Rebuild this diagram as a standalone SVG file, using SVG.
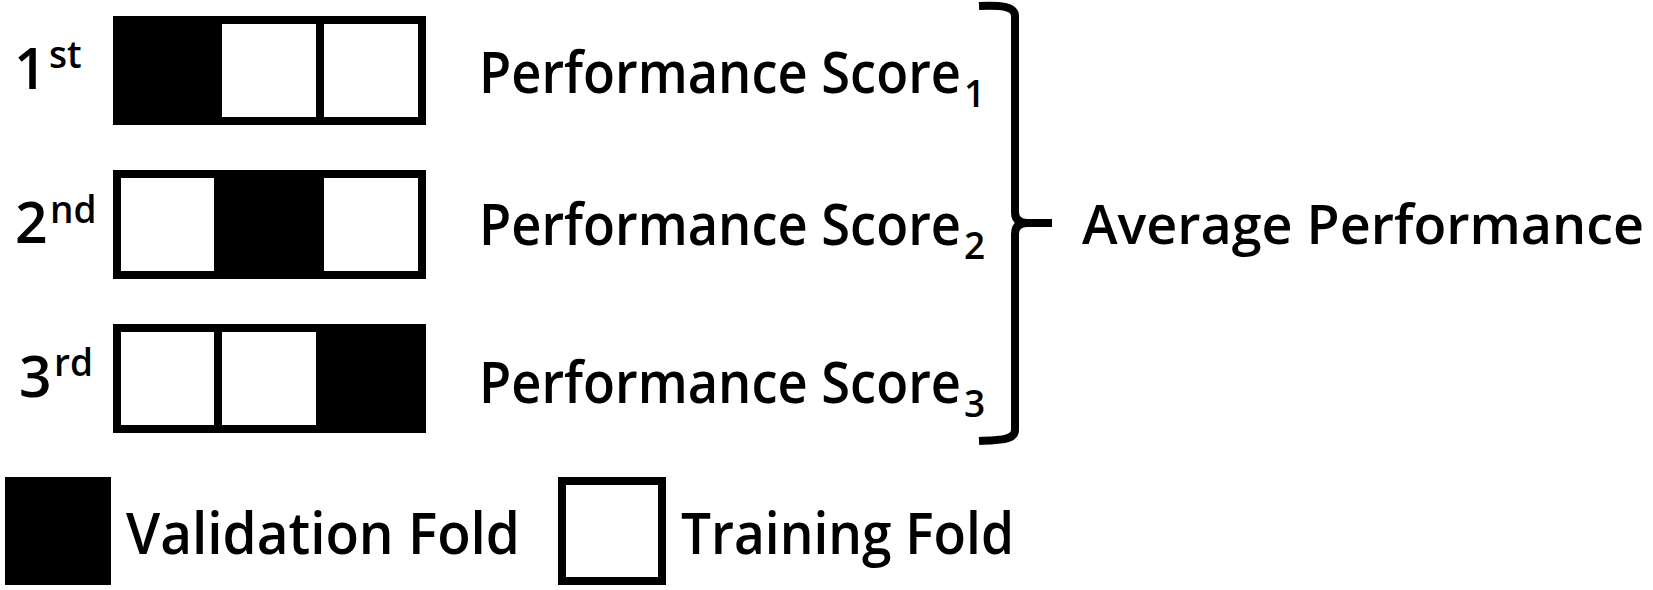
<svg xmlns="http://www.w3.org/2000/svg" width="1653" height="590" viewBox="0 0 1653 590">
<style>
.t{font-family:"Open Sans","Liberation Sans",sans-serif;font-size:57px;font-weight:600;fill:#000}
.s{font-family:"Open Sans","Liberation Sans",sans-serif;font-size:37px;font-weight:600;fill:#000}
.box{fill:#fff;stroke:#000;stroke-width:8}
.div{stroke:#000;stroke-width:8}
.val{fill:#000}
.br{fill:none;stroke:#000;stroke-width:8;stroke-linecap:butt;stroke-linejoin:round}
</style>
<rect width="1653" height="590" fill="#fff"/>
<g id="row1">
<text class="t" x="14" y="89">1</text><text class="s" x="49" y="68">st</text>
<rect class="box" x="117" y="20" width="305" height="101"/>
<line class="div" x1="218" y1="16" x2="218" y2="125"/><line class="div" x1="320" y1="16" x2="320" y2="125"/>
<rect class="val" x="113" y="16" width="109" height="109"/>
<text class="t" x="479" y="93"><tspan textLength="482" lengthAdjust="spacingAndGlyphs">Performance Score</tspan><tspan class="s" x="964" dy="14">1</tspan></text>
</g>
<g id="row2">
<text class="t" x="15" y="243">2</text><text class="s" x="50" y="223">nd</text>
<rect class="box" x="117" y="174" width="305" height="101"/>
<line class="div" x1="218" y1="170" x2="218" y2="279"/><line class="div" x1="320" y1="170" x2="320" y2="279"/>
<rect class="val" x="214" y="170" width="110" height="109"/>
<text class="t" x="479" y="245"><tspan textLength="482" lengthAdjust="spacingAndGlyphs">Performance Score</tspan><tspan class="s" x="964" dy="14">2</tspan></text>
</g>
<g id="row3">
<text class="t" x="19" y="397">3</text><text class="s" x="54" y="376">rd</text>
<rect class="box" x="117" y="328" width="305" height="101"/>
<line class="div" x1="218" y1="324" x2="218" y2="433"/><line class="div" x1="320" y1="324" x2="320" y2="433"/>
<rect class="val" x="316" y="324" width="110" height="109"/>
<text class="t" x="479" y="403"><tspan textLength="482" lengthAdjust="spacingAndGlyphs">Performance Score</tspan><tspan class="s" x="964" dy="14">3</tspan></text>
</g>
<g id="connectors">
<path class="br" d="M979,6 C1000,5 1015,6 1015,16 L1015,212 Q1015,223 1027,223 L1052,223 M1027,223 Q1015,223 1015,234 L1015,430 C1015,440 1000,440 979,441"/>
</g>
<g id="average">
<text class="t" x="1082" y="244" style="font-size:55px" textLength="562" lengthAdjust="spacingAndGlyphs">Average Performance</text>
</g>
<g id="legend-validation">
<rect class="val" x="5" y="477" width="106" height="108"/>
<text class="t" x="126" y="554" textLength="394" lengthAdjust="spacingAndGlyphs">Validation Fold</text>
</g>
<g id="legend-training">
<rect class="box" x="562" y="481" width="100" height="100"/>
<text class="t" x="681" y="554" textLength="333" lengthAdjust="spacingAndGlyphs">Training Fold</text>
</g>
</svg>
